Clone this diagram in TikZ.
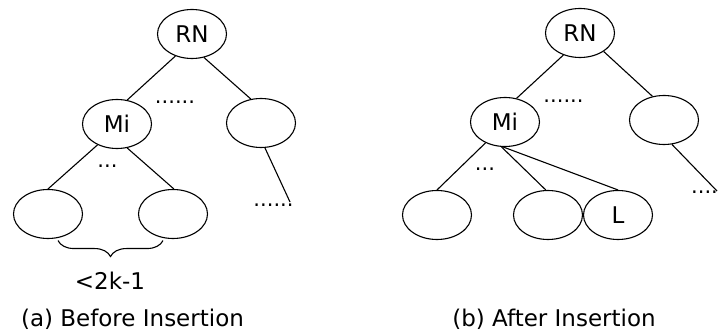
\documentclass[tikz,border=0pt]{standalone}
\usepackage{fontspec}
\setmainfont{DejaVu Sans}
\usetikzlibrary{shapes.geometric,decorations.pathreplacing}
\begin{document}
\begin{tikzpicture}[x=1pt,y=-1pt,
  tn/.style={draw, ellipse, line width=1.1pt, minimum width=69pt, minimum height=49pt, inner sep=0pt, font=\fontsize{23}{23}\selectfont},
  edge/.style={line width=1.1pt},
  dots/.style={font=\fontsize{21}{21}\selectfont, inner sep=0pt, anchor=base},
  lab/.style={font=\fontsize{23}{23}\selectfont, inner sep=0pt, anchor=base}]
\useasboundingbox (0,0) rectangle (719,336);
% (a) Before Insertion
\node[tn] (RNa) at (192,34) {RN};
\node[tn] (Mia) at (117,124) {Mi};
\node[tn] (Ra)  at (261,123) {};
\node[tn] (BLa) at (48,214) {};
\node[tn] (BRa) at (173,214) {};
\node[dots] (d1a) at (175,103.5) {......};
\node[dots] (d2a) at (107.5,167.5) {...};
\node[dots] (d3a) at (273.5,206.5) {......};
\coordinate (enda) at (290,202);
\draw[edge] (RNa.233) -- (Mia.67);
\draw[edge] (RNa.297) -- (Ra.113);
\draw[edge] (Mia.227) -- (BLa.90);
\draw[edge] (Mia.293) -- (BRa.88);
\draw[edge] (Ra.279) -- (enda);
\draw[edge, decorate, decoration={brace, mirror, amplitude=16pt}]
  ([xshift=10pt,yshift=-1.5pt]BLa.south) -- ([xshift=-10pt,yshift=-1.5pt]BRa.south);
\node[lab] (ka) at (110,290) {<2k-1};
\node[lab] (capa) at (132.5,326.5) {(a) Before Insertion};
% (b) After Insertion
\node[tn] (RNb) at (580,33) {RN};
\node[tn] (Mib) at (505,122) {Mi};
\node[tn] (Rb)  at (664,120) {};
\node[tn] (BLb) at (437,215) {};
\node[tn] (BMb) at (548,215) {};
\node[tn] (Lb)  at (618,215) {L};
\node[dots] (d1b) at (563.5,102.5) {......};
\node[dots] (d2b) at (485,170.5) {...};
\node[dots] (d3b) at (704.5,193.5) {....};
\coordinate (endb) at (717,191);
\draw[edge] (RNb.233) -- (Mib.64);
\draw[edge] (RNb.322) -- (Rb.116);
\draw[edge] (Mib.227) -- (BLb.90);
\draw[edge] (Mib.262) -- (BMb.95);
\draw[edge] (Mib.266) -- (Lb.90);
\draw[edge] (Rb.288) -- (endb);
\node[lab] (capb) at (554,326.5) {(b) After Insertion};
\end{tikzpicture}
\end{document}
